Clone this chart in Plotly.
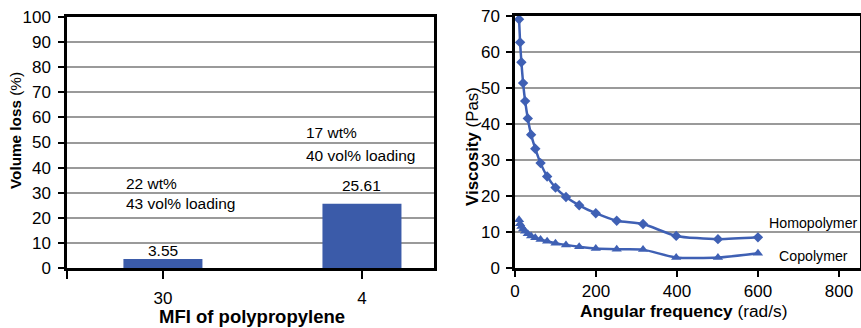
import plotly.graph_objects as go

# ---- data ----
mfi_labels = ["30", "4"]
volume_loss = [3.55, 25.61]
loading_wt = ["22 wt%", "17 wt%"]
loading_vol = ["43 vol% loading", "40 vol% loading"]

freq = [10, 12.6, 15.8, 20, 25.1, 31.6, 39.8, 50.1, 63.1, 79.4, 100, 125.9,
        158.5, 199.5, 251.2, 316.2, 398.1, 501.2, 600]
homopolymer = [69.0, 62.6, 57.1, 51.3, 46.3, 41.5, 37.0, 33.1, 29.1, 25.4,
               22.3, 19.7, 17.4, 15.2, 13.1, 12.2, 8.9, 8.0, 8.5]
copolymer = [13.4, 12.3, 11.5, 10.8, 10.2, 9.5, 8.9, 8.4, 7.9, 7.4,
             6.9, 6.4, 5.9, 5.4, 5.2, 5.1, 2.9, 2.9, 4.1]

W, H = 861, 328
FONT = "Liberation Sans, Arial, sans-serif"
BLUE = "#3b5ba9"
LINE = "#3f60b4"

def px(x):
    return x / W

def py(y):
    return 1 - y / H

fig = go.Figure()

cat_pos = list(range(len(mfi_labels)))
fig.add_trace(go.Bar(x=cat_pos, y=volume_loss, width=0.397, marker_color=BLUE,
                     marker_line_width=0, xaxis="x", yaxis="y", showlegend=False))

fig.add_trace(go.Scatter(x=freq, y=homopolymer, mode="lines+markers",
                         line=dict(color=LINE, width=2.5, shape="spline", smoothing=0.6),
                         marker=dict(symbol="diamond", size=8, color=LINE),
                         xaxis="x2", yaxis="y2", showlegend=False))
fig.add_trace(go.Scatter(x=freq, y=copolymer, mode="lines+markers",
                         line=dict(color=LINE, width=2.5, shape="spline", smoothing=0.6),
                         marker=dict(symbol="triangle-up", size=9, color=LINE),
                         xaxis="x2", yaxis="y2", showlegend=False))

x0 = -0.482
x1 = 1.362
tickfont = dict(family=FONT, size=17, color="black")
common_axis = dict(showline=True, linecolor="black", linewidth=2.5, mirror=True,
                   ticks="outside", tickcolor="black", tickwidth=1.5,
                   tickfont=tickfont, zeroline=False, automargin=False)

txtfont = dict(family=FONT, size=15.5, color="black")
annotations = []
# bar value labels
shifts = [9, 18.5]
for i, v in enumerate(volume_loss):
    annotations.append(dict(x=cat_pos[i], y=v, yshift=shifts[i], text=f"{v:.2f}",
                            xref="x", yref="y", showarrow=False, xanchor="center",
                            yanchor="middle", font=txtfont))
# loading notes
note_x = [-0.196, 0.709]
note_y1 = [33.5, 53.8]
note_y2 = [25.5, 45.0]
for i in range(2):
    annotations.append(dict(x=note_x[i], y=note_y1[i], text=loading_wt[i], xref="x", yref="y",
                            showarrow=False, xanchor="left", yanchor="middle", font=txtfont))
    annotations.append(dict(x=note_x[i], y=note_y2[i], text=loading_vol[i], xref="x", yref="y",
                            showarrow=False, xanchor="left", yanchor="middle", font=txtfont))
# series labels
annotations.append(dict(x=738, y=12.6, text="Homopolymer", xref="x2", yref="y2", showarrow=False,
                        xanchor="center", yanchor="middle",
                        font=dict(family=FONT, size=14.2, color="black")))
annotations.append(dict(x=738, y=3.3, text="Copolymer", xref="x2", yref="y2", showarrow=False,
                        xanchor="center", yanchor="middle",
                        font=dict(family=FONT, size=14.2, color="black")))
# axis titles
annotations.append(dict(x=px(252), y=py(316), xref="paper", yref="paper", showarrow=False,
                        text="<b>MFI of polypropylene</b>", xanchor="center", yanchor="middle",
                        borderpad=0,
                        font=dict(family=FONT, size=18.5, color="black")))
annotations.append(dict(x=px(683), y=py(311), xref="paper", yref="paper", showarrow=False,
                        text="<b>Angular frequency</b> (rad/s)", xanchor="center", yanchor="middle",
                        font=dict(family=FONT, size=17.3, color="black")))
annotations.append(dict(x=px(15), y=py(131), xref="paper", yref="paper", showarrow=False,
                        text="<b>Volume loss</b> (%)", textangle=-90,
                        xanchor="center", yanchor="middle",
                        font=dict(family=FONT, size=15.3, color="black")))
annotations.append(dict(x=px(472), y=py(147), xref="paper", yref="paper", showarrow=False,
                        text="<b>Viscosity</b> (Pas)", textangle=-90,
                        xanchor="center", yanchor="middle",
                        font=dict(family=FONT, size=16.9, color="black")))

fig.update_layout(
    width=W, height=H,
    margin=dict(l=0, r=0, t=0, b=0, autoexpand=False),
    paper_bgcolor="white", plot_bgcolor="white",
    xaxis=dict(domain=[px(67), px(434)], range=[x0, x1],
               tickvals=[x0] + cat_pos, ticktext=[""] + mfi_labels, ticklen=8,
               ticklabelstandoff=5,
               showgrid=False, **common_axis),
    yaxis=dict(domain=[py(268), py(17)], range=[0, 100], dtick=10, ticklen=6,
               ticklabelstandoff=4,
               showgrid=True, gridcolor="#9a9a9a", gridwidth=1.5, **common_axis),
    xaxis2=dict(domain=[px(515), px(860)], range=[0, 852], dtick=200, anchor="y2", ticklen=6,
                showgrid=False, **common_axis),
    yaxis2=dict(domain=[py(268), py(15.7)], range=[0, 70], dtick=10, anchor="x2", ticklen=6,
                ticklabelstandoff=3,
                showgrid=True, gridcolor="#9a9a9a", gridwidth=1.5, **common_axis),
    annotations=annotations,
)

fig.write_html("out.html")
